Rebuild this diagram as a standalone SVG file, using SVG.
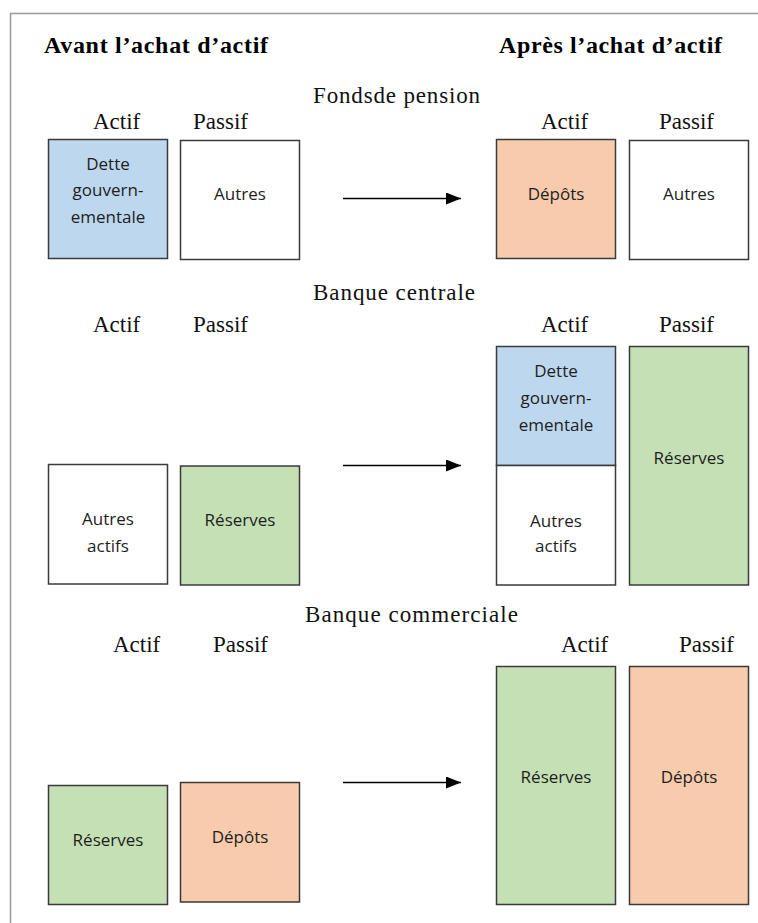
<svg xmlns="http://www.w3.org/2000/svg" width="758" height="923" viewBox="0 0 758 923">
<defs>
<style>
.frame{stroke:#9a9a9a;stroke-width:1.5;fill:none}
.box{stroke:#3a3a3a;stroke-width:1.5}
.w{fill:#ffffff}.b{fill:#bdd7ee}.o{fill:#f8cbad}.g{fill:#c5e0b4}
.h{font-family:"Liberation Serif","Times New Roman",serif;font-weight:bold;font-size:24px;fill:#000}
.t{font-family:"Liberation Serif","Times New Roman",serif;font-size:23px;fill:#111}
.l{font-family:"Liberation Serif","Times New Roman",serif;font-size:23px;fill:#111}
.c{font-family:"Open Sans","Liberation Sans",sans-serif;font-size:17px;fill:#1e1e1e;text-anchor:middle}
.arr{stroke:#000;stroke-width:1.5;fill:none}
</style>
<marker id="ah" markerWidth="15" markerHeight="12" refX="15" refY="6" orient="auto" markerUnits="userSpaceOnUse">
<path d="M0,0 L15,6 L0,12 Z" fill="#000"/>
</marker>
</defs>
<rect width="758" height="923" fill="#fff"/>
<path class="frame" d="M10.5,923 V13.5 H758"/>

<text class="h" x="44" y="53" textLength="224">Avant l’achat d’actif</text>
<text class="h" x="499" y="53" textLength="223">Après l’achat d’actif</text>

<text class="t" x="313" y="103" textLength="167">Fondsde pension</text>
<text class="t" x="313" y="300" textLength="162">Banque centrale</text>
<text class="t" x="305" y="622" textLength="213">Banque commerciale</text>

<g id="labels">
<text class="l" x="93" y="129">Actif</text><text class="l" x="193" y="129">Passif</text>
<text class="l" x="541" y="129">Actif</text><text class="l" x="659" y="129">Passif</text>
<text class="l" x="93" y="332">Actif</text><text class="l" x="193" y="332">Passif</text>
<text class="l" x="541" y="332">Actif</text><text class="l" x="659" y="332">Passif</text>
<text class="l" x="113" y="652">Actif</text><text class="l" x="213" y="652">Passif</text>
<text class="l" x="561" y="652">Actif</text><text class="l" x="679" y="652">Passif</text>
</g>

<g id="connectors">
<line class="arr" x1="343" y1="198.5" x2="461" y2="198.5" marker-end="url(#ah)"/>
<line class="arr" x1="343" y1="465.5" x2="461" y2="465.5" marker-end="url(#ah)"/>
<line class="arr" x1="343" y1="782.5" x2="461" y2="782.5" marker-end="url(#ah)"/>
</g>

<g id="fp-before-actif"><rect class="box b" x="48.5" y="139.5" width="119" height="119"/>
<text class="c" x="108" y="170">Dette</text><text class="c" x="108" y="196">gouvern-</text><text class="c" x="108" y="222.5">ementale</text></g>
<g id="fp-before-passif"><rect class="box w" x="180.5" y="140.5" width="119" height="119"/>
<text class="c" x="240" y="200">Autres</text></g>
<g id="fp-after-actif"><rect class="box o" x="496.5" y="139.5" width="119" height="119"/>
<text class="c" x="556" y="200">Dépôts</text></g>
<g id="fp-after-passif"><rect class="box w" x="629.5" y="140.5" width="119" height="119"/>
<text class="c" x="689" y="200">Autres</text></g>

<g id="bc-before-actif"><rect class="box w" x="48.5" y="464.5" width="119" height="119.5"/>
<text class="c" x="108" y="525">Autres</text><text class="c" x="108" y="551.5">actifs</text></g>
<g id="bc-before-passif"><rect class="box g" x="180.5" y="466" width="119" height="119"/>
<text class="c" x="240" y="526">Réserves</text></g>
<g id="bc-after-actif"><rect class="box b" x="496.5" y="346.5" width="119" height="119"/>
<rect class="box w" x="496.5" y="465.5" width="119" height="119.5"/>
<text class="c" x="556" y="377">Dette</text><text class="c" x="556" y="404">gouvern-</text><text class="c" x="556" y="431">ementale</text>
<text class="c" x="556" y="526.5">Autres</text><text class="c" x="556" y="552">actifs</text></g>
<g id="bc-after-passif"><rect class="box g" x="629.5" y="346.5" width="119" height="238.5"/>
<text class="c" x="689" y="464">Réserves</text></g>

<g id="cb-before-actif"><rect class="box g" x="48.5" y="785.5" width="119" height="119"/>
<text class="c" x="108" y="845.5">Réserves</text></g>
<g id="cb-before-passif"><rect class="box o" x="180.5" y="782.5" width="119" height="119.5"/>
<text class="c" x="240" y="843">Dépôts</text></g>
<g id="cb-after-actif"><rect class="box g" x="496.5" y="666.5" width="119" height="238"/>
<text class="c" x="556" y="783">Réserves</text></g>
<g id="cb-after-passif"><rect class="box o" x="629.5" y="666.5" width="119" height="238"/>
<text class="c" x="689" y="783">Dépôts</text></g>
</svg>
